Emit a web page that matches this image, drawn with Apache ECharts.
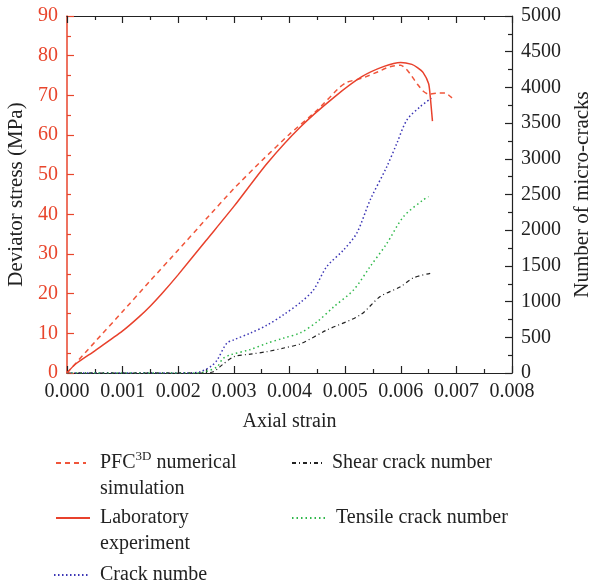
<!DOCTYPE html>
<html>
<head>
<meta charset="utf-8">
<script src="https://cdn.jsdelivr.net/npm/echarts@6/dist/echarts.min.js"></script>
<style>html,body{margin:0;padding:0;background:#fff}#c{width:593px;height:588px}</style>
</head>
<body>
<div id="c"></div>
<script>
// ---- data ----
var pfcStrain = [0, 0.0005, 0.001, 0.0015, 0.002, 0.0025, 0.003, 0.0035, 0.004, 0.0045, 0.0049, 0.00503, 0.0053, 0.0056, 0.0058, 0.006, 0.0061, 0.0062, 0.0063, 0.0064, 0.0065, 0.0067, 0.0068, 0.0069, 0.00695];
var pfcStress = [0, 7.8, 15.5, 23.3, 31, 38.8, 46.5, 53.5, 60.2, 66.3, 72, 73.3, 74.3, 76, 77.2, 77.6, 76.6, 74.8, 72.8, 71.1, 70.3, 70.6, 70.6, 69.6, 69];

var labStrain = [0, 0.00015, 0.0005, 0.001, 0.0013, 0.0015, 0.0017, 0.002, 0.0025, 0.003, 0.0036, 0.0042, 0.0048, 0.0053, 0.0057, 0.006, 0.0062, 0.0063, 0.0064, 0.0065, 0.00653, 0.00657];
var labStress = [0, 2.2, 5.6, 10.6, 14.2, 16.9, 19.9, 24.8, 33.4, 42, 52.9, 62.1, 69.5, 74.7, 77.3, 78.3, 77.8, 77.0, 75.8, 73, 69.7, 63.5];

var crackStrain = [0, 0.0022, 0.0024, 0.0026, 0.0027, 0.00287, 0.003, 0.0033, 0.0036, 0.0039, 0.0042, 0.00443, 0.00467, 0.00497, 0.00521, 0.00545, 0.00575, 0.00593, 0.00611, 0.00635, 0.00655];
var crackCount  = [0, 0, 18, 100, 182, 415, 465, 560, 672, 820, 990, 1162, 1490, 1722, 1960, 2423, 2890, 3217, 3543, 3730, 3850];

var tensileStrain = [0, 0.0023, 0.0025, 0.0027, 0.0028, 0.00293, 0.0033, 0.00359, 0.0039, 0.0042, 0.0045, 0.0048, 0.00515, 0.00545, 0.00575, 0.00605, 0.0064, 0.0065];
var tensileCount  = [0, 0, 20, 88, 200, 252, 330, 415, 490, 565, 720, 930, 1162, 1490, 1815, 2190, 2423, 2470];

var shearStrain = [0, 0.0024, 0.00263, 0.0028, 0.003, 0.0033, 0.00359, 0.0039, 0.0042, 0.00467, 0.00527, 0.00563, 0.006, 0.00622, 0.00653];
var shearCount  = [0, 0, 18, 120, 228, 265, 298, 350, 410, 602, 812, 1070, 1210, 1330, 1396];

var xTicks = {min: 0, max: 0.008, interval: 0.001};
var yLeftTicks = {min: 0, max: 90, interval: 10};
var yRightTicks = {min: 0, max: 5000, interval: 500};

var names = {
  pfc: 'PFC3D numerical simulation',
  lab: 'Laboratory experiment',
  crack: 'Crack numbe',
  shear: 'Shear crack number',
  tensile: 'Tensile crack number'
};

function zip(a, b) { return a.map(function (v, i) { return [v, b[i]]; }); }

var FONT = 'Liberation Serif';
var RED = '#e8452c';
var DARK = '#222222';

var chart = echarts.init(document.getElementById('c'));

function legendAt(name, left, top, itemWidth, pad) {
  return {
    data: [name], left: left, top: top, orient: 'vertical', padding: 0,
    itemWidth: itemWidth, itemHeight: 14, selectedMode: false,
    itemStyle: { opacity: 0 },
    formatter: function (n) {
      if (n === names.pfc) return '\u00a0\nPFC{sup|3D} numerical\nsimulation';
      if (n === names.lab) return '\u00a0\nLaboratory\nexperiment';
      return n;
    },
    textStyle: {
      fontFamily: FONT, fontSize: 20, color: DARK, lineHeight: 26, padding: [0, 0, 0, pad],
      rich: { sup: { fontFamily: FONT, fontSize: 13, color: DARK, verticalAlign: 'top', lineHeight: 26 } }
    }
  };
}

function ticks(color) {
  return { show: true, inside: true, length: 7, lineStyle: { color: color, width: 1.2 } };
}
function minor(color) {
  return { show: true, splitNumber: 2, length: 4, lineStyle: { color: color, width: 1.2 } };
}

chart.setOption({
  animation: false,
  backgroundColor: '#ffffff',
  grid: { left: 67, right: 81, top: 16, bottom: 215, containLabel: false, outerBoundsMode: 'none' },
  legend: [
    legendAt(names.pfc, 55, 424, 30, 9),
    legendAt(names.lab, 55, 479, 34, 5),
    legendAt(names.crack, 53, 562, 36, 5),
    legendAt(names.shear, 291, 450, 32, 3),
    legendAt(names.tensile, 291, 505, 34, 5)
  ],
  xAxis: [
    {
      type: 'value', min: xTicks.min, max: xTicks.max, interval: xTicks.interval,
      position: 'bottom',
      name: 'Axial strain', nameLocation: 'middle', nameGap: 39,
      nameTextStyle: { fontFamily: FONT, fontSize: 20, color: DARK },
      axisLine: { show: true, onZero: false, lineStyle: { color: DARK, width: 1.2 } },
      axisTick: ticks(DARK), minorTick: minor(DARK),
      splitLine: { show: false },
      axisLabel: { show: true, margin: 9, fontFamily: FONT, fontSize: 20, color: DARK,
        formatter: function (v) { return v.toFixed(3); } }
    },
    {
      type: 'value', min: xTicks.min, max: xTicks.max, interval: xTicks.interval,
      position: 'top',
      axisLine: { show: true, onZero: false, lineStyle: { color: DARK, width: 1.2 } },
      axisTick: ticks(DARK), minorTick: minor(DARK),
      splitLine: { show: false }, axisLabel: { show: false }
    }
  ],
  yAxis: [
    {
      type: 'value', min: yLeftTicks.min, max: yLeftTicks.max, interval: yLeftTicks.interval,
      position: 'left',
      name: 'Deviator stress (MPa)', nameLocation: 'middle', nameGap: 32,
      nameTextStyle: { fontFamily: FONT, fontSize: 21, color: DARK },
      axisLine: { show: true, onZero: false, lineStyle: { color: RED, width: 1.5 } },
      axisTick: ticks(RED), minorTick: minor(RED),
      splitLine: { show: false },
      axisLabel: { margin: 9, fontFamily: FONT, fontSize: 20, color: RED }
    },
    {
      type: 'value', min: yRightTicks.min, max: yRightTicks.max, interval: yRightTicks.interval,
      position: 'right',
      name: 'Number of micro-cracks', nameLocation: 'middle', nameGap: 58,
      nameTextStyle: { fontFamily: FONT, fontSize: 21, color: DARK },
      axisLine: { show: true, onZero: false, lineStyle: { color: DARK, width: 1.2 } },
      axisTick: ticks(DARK), minorTick: minor(DARK),
      splitLine: { show: false },
      axisLabel: { margin: 9, fontFamily: FONT, fontSize: 20, color: DARK,
        formatter: function (v) { return String(v); } }
    }
  ],
  series: [
    { name: names.crack, type: 'line', xAxisIndex: 0, yAxisIndex: 1, data: zip(crackStrain, crackCount),
      showSymbol: false, symbol: 'none', smooth: 0.3, z: 2,
      lineStyle: { color: '#3b35b5', width: 1.5, type: [1.5, 2.5] }, itemStyle: { color: '#3b35b5' } },
    { name: names.tensile, type: 'line', xAxisIndex: 0, yAxisIndex: 1, data: zip(tensileStrain, tensileCount),
      showSymbol: false, symbol: 'none', smooth: 0.3, z: 2,
      lineStyle: { color: '#2fb84a', width: 1.5, type: [1.5, 3] }, itemStyle: { color: '#2fb84a' } },
    { name: names.shear, type: 'line', xAxisIndex: 0, yAxisIndex: 1, data: zip(shearStrain, shearCount),
      showSymbol: false, symbol: 'none', smooth: 0.3, z: 2,
      lineStyle: { color: '#222222', width: 1.2, type: [4, 3, 1, 3] }, itemStyle: { color: '#222222' } },
    { name: names.pfc, type: 'line', xAxisIndex: 0, yAxisIndex: 0, data: zip(pfcStrain, pfcStress),
      showSymbol: false, symbol: 'none', smooth: 0.2, z: 3,
      lineStyle: { color: '#f0553a', width: 1.5, type: [5, 4] }, itemStyle: { color: '#f0553a' } },
    { name: names.lab, type: 'line', xAxisIndex: 0, yAxisIndex: 0, data: zip(labStrain, labStress),
      showSymbol: false, symbol: 'none', smooth: 0.25, z: 4,
      lineStyle: { color: '#e8412c', width: 1.5 }, itemStyle: { color: '#e8412c' } }
  ]
});
</script>
</body>
</html>
